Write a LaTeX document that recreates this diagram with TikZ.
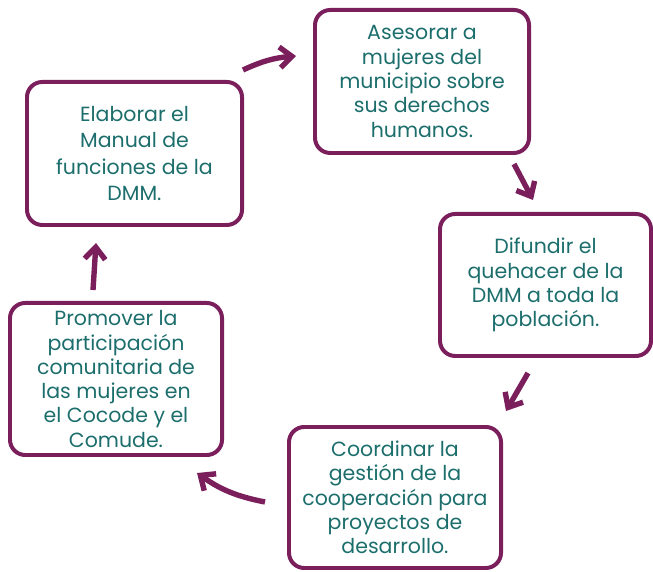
\documentclass[tikz,border=0pt]{standalone}
\usepackage{fontspec}
\setmainfont{Poppins}
\usetikzlibrary{arrows.meta}

\definecolor{dmmborde}{RGB}{122,30,92}
\definecolor{dmmtexto}{RGB}{28,110,108}

\tikzset{
    caja/.style={draw=dmmborde, line width=3.4pt, rounded corners=13pt,
        align=center, text=dmmtexto, inner sep=0pt,
        font=\fontsize{17.5}{20.7}\selectfont},
    flecha/.style={draw=dmmborde, line width=4.6pt,
        -{Straight Barb[length=3.6mm, width=6.2mm]}}
}

\begin{document}
\begin{tikzpicture}[x=0.03cm, y=0.03cm]
    \useasboundingbox (0,0) rectangle (653,572);

    % cajas
    \node[caja, font=\fontsize{17.5}{22.4}\selectfont,
        minimum width=6.45cm, minimum height=4.29cm] (elaborar) at (134.5,418.5)
        {Elaborar el\\Manual de\\funciones de la\\DMM.};
    \node[caja, minimum width=6.42cm, minimum height=4.29cm] (asesorar) at (422,490.5)
        {Asesorar a\\mujeres del\\municipio sobre\\sus derechos\\humanos.};
    \node[caja, minimum width=6.33cm, minimum height=4.26cm] (difundir) at (545.5,287)
        {Difundir el\\quehacer de la\\DMM a toda la\\población.};
    \node[caja, minimum width=6.36cm, minimum height=4.23cm] (coordinar) at (395,74.5)
        {Coordinar la\\gestión de la\\cooperación para\\proyectos de\\desarrollo.};
    \node[caja, minimum width=6.36cm, minimum height=4.56cm] (promover) at (116,193)
        {Promover la\\participación\\comunitaria de\\las mujeres en\\el Cocode y el\\Comude.};

    % puntos de las flechas
    \coordinate (a1) at (243,502);
    \coordinate (b1) at (296,516);
    \coordinate (a2) at (514,408);
    \coordinate (b2) at (533,372);
    \coordinate (a3) at (528,199);
    \coordinate (b3) at (506,161);
    \coordinate (a4) at (265,70);
    \coordinate (b4) at (197,99);
    \coordinate (a5) at (93,282);
    \coordinate (b5) at (96,329);

    % flechas
    \draw[flecha] (a1) to[bend left=10] (b1);
    \draw[flecha] (a2) -- (b2);
    \draw[flecha] (a3) -- (b3);
    \draw[flecha] (a4) to[bend left=12] (b4);
    \draw[flecha] (a5) -- (b5);
\end{tikzpicture}
\end{document}
